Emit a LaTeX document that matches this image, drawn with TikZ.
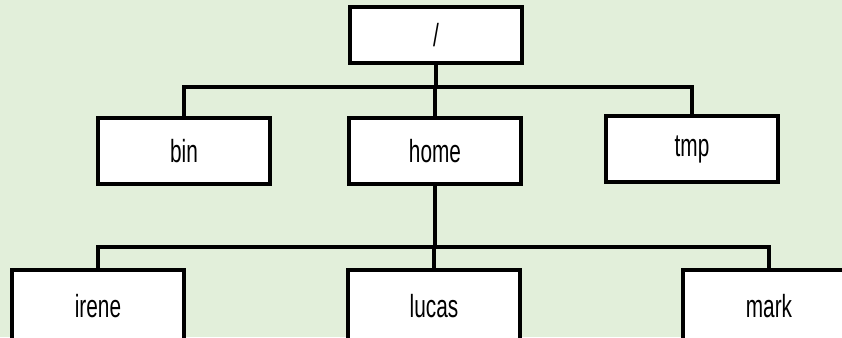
\documentclass[tikz,border=0pt]{standalone}
\usepackage{fontspec}
\usepackage{tikz}
\usetikzlibrary{positioning}
\setmainfont{Liberation Sans}[FakeStretch=0.65]
\definecolor{leaf}{RGB}{226, 239, 218}

\tikzset{
  dirbox/.style={draw=black, fill=white, line width=4.5, minimum width=172, minimum height=66,
    inner sep=0, font=\fontsize{32}{38}\selectfont},
  branch/.style={black, line width=4}
}

\begin{document}
\begin{tikzpicture}[x=1pt, y=-1pt]
  
  \fill[leaf] (0, 0) rectangle (842, 337);
  \useasboundingbox (0, 0) rectangle (842, 337);
  
  \node[dirbox, minimum height=56] (root) at (436, 35) {/};
  
  \node[dirbox] (bin) at (184, 151) {bin};
  \node[dirbox] (home) at (435, 151) {home};
  \node[dirbox] (tmp) at (692, 149) {tmp};
  
  \node[dirbox, minimum height=72] (irene) at (98, 306) {irene};
  \node[dirbox, minimum height=72] (lucas) at (434, 306) {lucas};
  \node[dirbox, minimum height=72] (mark) at (769, 306) {mark};
  
  \coordinate (bus1) at (root.south |- 0, 87);
  \coordinate (bus2) at (home.south |- 0, 247);
  
  \draw[branch] (root.south) -- (bus1);
  \draw[branch] (bin.north) |- (bus1) -| (tmp.north);
  \draw[branch] (home.north) -- (home.north |- bus1);
  
  \draw[branch] (home.south) -- (bus2);
  \draw[branch] (irene.north) |- (bus2) -| (mark.north);
  \draw[branch] (lucas.north) -- (lucas.north |- bus2);
  
\end{tikzpicture}
\end{document}
